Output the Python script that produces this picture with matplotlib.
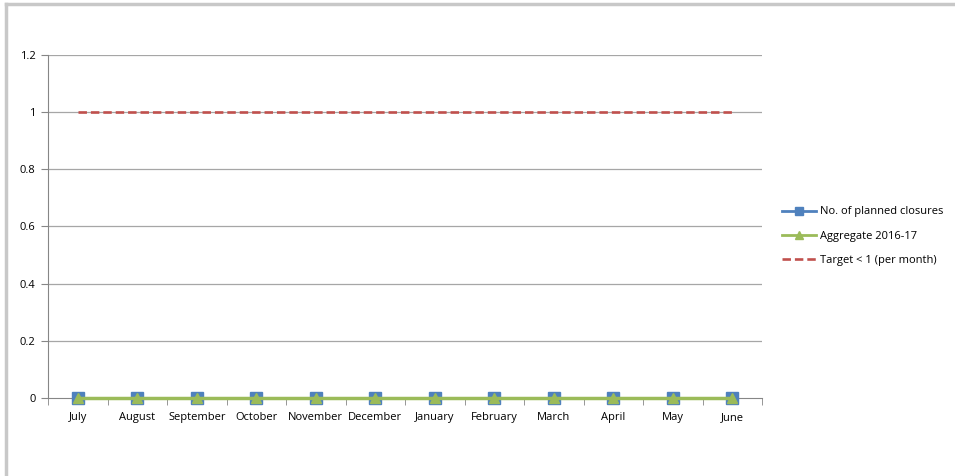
import matplotlib.pyplot as plt
from matplotlib.lines import Line2D

plt.rcParams['font.family'] = ['Open Sans', 'DejaVu Sans']

months = ['July', 'August', 'September', 'October', 'November', 'December',
          'January', 'February', 'March', 'April', 'May', 'June']
planned_closures = [0, 0, 0, 0, 0, 0, 0, 0, 0, 0, 0, 0]
aggregate = [0, 0, 0, 0, 0, 0, 0, 0, 0, 0, 0, 0]
target = [1, 1, 1, 1, 1, 1, 1, 1, 1, 1, 1, 1]
y_ticks = [0, 0.2, 0.4, 0.6, 0.8, 1, 1.2]

fig = plt.figure(figsize=(9.55, 4.76), dpi=100)
ax = fig.add_axes([48 / 955, 1 - 398 / 476, 714 / 955, 343 / 476])

x = list(range(len(months)))

# gridlines
for t in y_ticks[1:]:
    ax.axhline(t, color='#a6a6a6', lw=0.9, zorder=0)

ax.plot(x, target, color='#c0504d', lw=1.9, dashes=(3.2, 1.5), zorder=3,
        label='Target < 1 (per month)')
ax.plot(x, planned_closures, color='#4f81bd', lw=2, marker='s', ms=8,
        mfc='#4f81bd', mec='#4f81bd', zorder=4, clip_on=False,
        label='No. of planned closures')
ax.plot(x, aggregate, color='#9bbb59', lw=2.5, marker='^', ms=7,
        mfc='#9bbb59', mec='#9bbb59', zorder=5, clip_on=False,
        label='Aggregate 2016-17')

ax.set_xlim(-0.5, len(months) - 0.5)
ax.set_ylim(0, 1.2)
ax.set_yticks(y_ticks)
ax.set_yticklabels(['0', '0.2', '0.4', '0.6', '0.8', '1', '1.2'])
ax.set_xticks(x)
ax.set_xticklabels(months)
ax.set_xticks([i - 0.5 for i in range(len(months) + 1)], minor=True)
ax.tick_params(axis='x', which='major', length=0, labelsize=8, pad=10)
ax.tick_params(axis='x', which='minor', length=5, color='#868686', direction='out')
ax.tick_params(axis='y', length=5, color='#868686', labelsize=8, pad=4)

for side in ['top', 'right']:
    ax.spines[side].set_visible(False)
ax.spines['left'].set_color('#868686')
ax.spines['bottom'].set_color('#868686')
ax.spines['bottom'].set_zorder(2)

handles = [
    Line2D([], [], color='#4f81bd', lw=2, marker='s', ms=6, label='No. of planned closures'),
    Line2D([], [], color='#9bbb59', lw=2, marker='^', ms=6, label='Aggregate 2016-17'),
    Line2D([], [], color='#c0504d', lw=1.9, dashes=(3.2, 1.5), label='Target < 1 (per month)'),
]
fig.legend(handles=handles, loc='upper left', bbox_to_anchor=(778 / 955, 1 - 202 / 476),
           frameon=False, fontsize=8, handlelength=3, handletextpad=0.4,
           labelspacing=1.2, borderaxespad=0)

# outer chart border (left and top only visible)
fig.add_artist(Line2D([5.5 / 955, 5.5 / 955], [0, 1 - 3.5 / 476], color='#c8c8c8', lw=2.5))
fig.add_artist(Line2D([5.5 / 955, 1], [1 - 3.5 / 476, 1 - 3.5 / 476], color='#c8c8c8', lw=2.5))

fig.savefig('out.png', dpi=100)
